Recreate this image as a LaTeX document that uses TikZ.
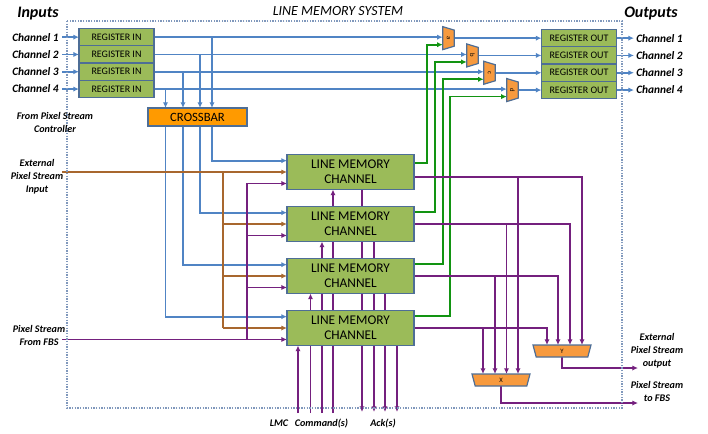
\documentclass[tikz,border=0pt]{standalone}
\usepackage{fontspec}
\setmainfont{Carlito}
\usetikzlibrary{arrows.meta}
\definecolor{boxgreen}{HTML}{9BBB59}
\definecolor{boxedge}{HTML}{4E6E96}
\definecolor{lineblue}{HTML}{5084C4}
\definecolor{xbarorange}{HTML}{FF9A00}
\definecolor{muxorange}{HTML}{F79A3E}
\definecolor{brownline}{HTML}{A8672E}
\definecolor{purpleline}{HTML}{74207E}
\definecolor{greenline}{HTML}{129412}
\definecolor{dotline}{HTML}{8098BC}
\pgfdeclarelayer{bg}
\pgfsetlayers{bg,main}
\begin{document}
\begin{tikzpicture}[x=0.75pt,y=-0.75pt,
  tip/.style={-{Latex[length=4.3pt,width=4pt]}},
  bl/.style={draw=lineblue,line width=1.35pt},
  br/.style={draw=brownline,line width=1.35pt},
  pu/.style={draw=purpleline,line width=1.35pt},
  gr/.style={draw=greenline,line width=1.35pt},
  reg/.style={draw=boxedge,fill=boxgreen,line width=1pt,inner sep=0pt,outer sep=0pt,
    minimum width=56.25pt,minimum height=12.975pt,font=\fontsize{7.5}{9}\selectfont},
  lmcbox/.style={draw=boxedge,fill=boxgreen,line width=1pt,inner sep=0pt,outer sep=0pt,
    minimum width=95.25pt,minimum height=26.25pt,align=center,font=\fontsize{10}{11.5}\selectfont},
  xbar/.style={draw=boxedge,fill=xbarorange,line width=1pt,inner sep=0pt,outer sep=0pt,
    minimum width=74.25pt,minimum height=13.5pt,font=\fontsize{9.5}{11}\selectfont},
  muxn/.style={inner sep=0pt,outer sep=0pt},
  muxshape/.style={draw=boxedge,fill=muxorange,line width=0.9pt},
  muxlab/.style={inner sep=0pt,font=\fontsize{5}{5}\selectfont},
  chlab/.style={inner sep=0pt,font=\fontsize{8.5}{10}\selectfont\bfseries\itshape},
  sl/.style={inner sep=0pt,align=center,font=\fontsize{7.6}{9.75}\selectfont\bfseries\itshape},
  title/.style={inner sep=0pt,font=\fontsize{12}{14}\selectfont\bfseries\itshape}]
\useasboundingbox (0,0) rectangle (708,433);

% border and titles
\draw[dotline,densely dotted,line width=1pt] (67,21) rectangle (622,408);
\node[title] (tin) at (38,14) {Inputs};
\node[title] (tout) at (651,14) {Outputs};
\node[inner sep=0pt,font=\fontsize{10.5}{12}\selectfont\itshape] (tsys) at (338,11) {LINE MEMORY SYSTEM};

% register in
\node[reg] (rin1) at (116.5,37.15) {REGISTER IN};
\node[reg] (rin2) at (116.5,54.45) {REGISTER IN};
\node[reg] (rin3) at (116.5,71.75) {REGISTER IN};
\node[reg] (rin4) at (116.5,89.05) {REGISTER IN};
% register out
\node[reg] (rout1) at (579,38.15) {REGISTER OUT};
\node[reg] (rout2) at (579,55.45) {REGISTER OUT};
\node[reg] (rout3) at (579,72.75) {REGISTER OUT};
\node[reg] (rout4) at (579,90.05) {REGISTER OUT};
% crossbar
\node[xbar] (xb) at (197.5,117) {CROSSBAR};
% line memory channels
\node[lmcbox] (lmc1) at (350.5,172) {LINE MEMORY\\CHANNEL};
\node[lmcbox] (lmc2) at (350.5,224) {LINE MEMORY\\CHANNEL};
\node[lmcbox] (lmc3) at (350.5,276) {LINE MEMORY\\CHANNEL};
\node[lmcbox] (lmc4) at (350.5,328) {LINE MEMORY\\CHANNEL};

% small muxes a-d
\node[muxn,minimum width=8.6pt,minimum height=17.25pt] (ma) at (448.5,38.15) {};
\node[muxn,minimum width=8.6pt,minimum height=17.25pt] (mb) at (472.5,55.45) {};
\node[muxn,minimum width=8.6pt,minimum height=17.25pt] (mc) at (489.5,72.75) {};
\node[muxn,minimum width=8.6pt,minimum height=17.25pt] (md) at (512.5,90.05) {};
\foreach \m/\t in {ma/a,mb/b,mc/c,md/d}{
  \draw[muxshape] (\m.north west) -- ([yshift=-2.6pt]\m.north east) -- ([yshift=2.6pt]\m.south east) -- (\m.south west) -- cycle;
  \node[muxlab,rotate=-90] (l\m) at (\m.center) {\t};
}
% X and Y muxes
\node[muxn,minimum width=43.5pt,minimum height=9pt] (xm) at (501,380) {};
\node[muxn,minimum width=43.5pt,minimum height=9pt] (ym) at (562,351) {};
\foreach \m/\t in {xm/X,ym/Y}{
  \draw[muxshape] (\m.north west) -- (\m.north east) -- ([xshift=-2.4pt]\m.south east) -- ([xshift=2.4pt]\m.south west) -- cycle;
  \node[muxlab] (l\m) at (\m.center) {\t};
}

% labels
\node[chlab,anchor=east] (lin1) at (59,37.15) {Channel 1};
\node[chlab,anchor=east] (lin2) at (59,54.45) {Channel 2};
\node[chlab,anchor=east] (lin3) at (59,71.75) {Channel 3};
\node[chlab,anchor=east] (lin4) at (59,89.05) {Channel 4};
\node[chlab,anchor=west] (lout1) at (636,38.15) {Channel 1};
\node[chlab,anchor=west] (lout2) at (636,55.45) {Channel 2};
\node[chlab,anchor=west] (lout3) at (636,72.75) {Channel 3};
\node[chlab,anchor=west] (lout4) at (636,90.05) {Channel 4};
\node[sl] (lpsc) at (55,122) {From Pixel Stream\\Controller};
\node[sl] (lext) at (37,177) {External\\Pixel Stream\\Input};
\node[sl] (lfbs) at (39,335.5) {Pixel Stream\\From FBS};
\node[sl] (lexo) at (657,351) {External\\Pixel Stream\\output};
\node[sl] (lto) at (657,391) {Pixel Stream\\to FBS};
\node[sl] (llmc) at (279,423) {LMC};
\node[sl] (lcmd) at (321.5,423) {Command(s)};
\node[sl] (lack) at (383,423) {Ack(s)};

% coordinates
\coordinate (c1) at (212,0);
\coordinate (c2) at (200,0);
\coordinate (c3) at (183,0);
\coordinate (c4) at (165.5,0);
\coordinate (bs) at (62,172);
\coordinate (bj) at (223,0);
\coordinate (ps) at (62,0);
\coordinate (pj) at (247,0);
\coordinate (g1) at (427,0);
\coordinate (g2) at (435,0);
\coordinate (g3) at (443,0);
\coordinate (g4) at (450,0);
\coordinate (xo) at (638,403);
\coordinate (yo) at (638,368);
\foreach \i in {1,2,3,4}{
  \coordinate (pin\i) at ([yshift=-8.6pt]lmc\i.west);
  \coordinate (bin\i) at ([yshift=8.5pt]lmc\i.west);
}
\coordinate (gout1) at ([yshift=6.75pt]lmc1.east);
\coordinate (gout2) at ([yshift=8.8pt]lmc2.east);
\coordinate (gout3) at ([yshift=8.8pt]lmc3.east);
\coordinate (gout4) at ([yshift=8.8pt]lmc4.east);
\coordinate (gin1) at ([yshift=-4.9pt]ma.west);
\coordinate (gin2) at ([yshift=-4.9pt]mb.west);
\coordinate (gin3) at ([yshift=-4.9pt]mc.west);
\coordinate (gin4) at ([yshift=-4.9pt]md.west);

\begin{pgfonlayer}{bg}
% channel inputs / outputs
\foreach \i in {1,2,3,4}{
  \draw[bl,tip] ([xshift=2.5pt]lin\i.east) -- (rin\i.west);
  \draw[bl,tip] (rout\i.east) -- ([xshift=-1.5pt]lout\i.west);
}
% register in to muxes
\draw[bl,tip] (rin1.east) -- (rin1.east -| ma.west);
\draw[bl,tip] (rin2.east) -- (rin2.east -| mb.west);
\draw[bl,tip] (rin3.east) -- (rin3.east -| mc.west);
\draw[bl,tip] (rin4.east) -- (rin4.east -| md.west);
% muxes to register out
\draw[bl,tip] (ma.east) -- (ma.east -| rout1.west);
\draw[bl,tip] (mb.east) -- (mb.east -| rout2.west);
\draw[bl,tip] (mc.east) -- (mc.east -| rout3.west);
\draw[bl,tip] (md.east) -- (md.east -| rout4.west);
% drops into crossbar
\draw[bl,tip] (c1 |- rin1.east) -- (c1 |- xb.north);
\draw[bl,tip] (c2 |- rin2.east) -- (c2 |- xb.north);
\draw[bl,tip] (c3 |- rin3.east) -- (c3 |- xb.north);
\draw[bl,tip] (c4 |- rin4.east) -- (c4 |- xb.north);
% crossbar to LMCs
\foreach \i in {1,2,3,4}{\draw[bl,tip] (c\i |- xb.south) |- (bin\i);}
% brown external input
\draw[br,tip] (bs) -- (lmc1.west);
\draw[br] (bj |- lmc1.west) -- (bj |- lmc4.west);
\draw[br,tip] (bj |- lmc2.west) -- (lmc2.west);
\draw[br,tip] (bj |- lmc3.west) -- (lmc3.west);
\draw[br,tip] (bj |- lmc4.west) -- (lmc4.west);
% purple from FBS
\draw[pu,tip] (ps |- pin4) -- (pin4);
\draw[pu] (pj |- pin4) -- (pj |- pin1);
\draw[pu,tip] (pj |- pin1) -- (pin1);
\draw[pu,tip] (pj |- pin2) -- (pin2);
\draw[pu,tip] (pj |- pin3) -- (pin3);
% green to muxes
\foreach \i in {1,2,3,4}{\draw[gr,tip] (gout\i) -| (g\i |- gin\i) -- (gin\i);}
% commands
\coordinate (cm4) at (298,413);
\coordinate (cm3) at (310.5,413);
\coordinate (cm2) at (322,413);
\coordinate (cm1) at (333,413);
\foreach \i in {1,2,3,4}{\draw[pu,tip] (cm\i) -- (cm\i |- lmc\i.south);}
% acks
\coordinate (ak1) at (362,412);
\coordinate (ak2) at (374,412);
\coordinate (ak3) at (385,412);
\coordinate (ak4) at (397,412);
\foreach \i in {1,2,3,4}{\draw[pu,tip] (ak\i |- lmc\i.south) -- (ak\i);}
% outputs to X / Y
\coordinate (o1) at ([yshift=-3.75pt]lmc1.east);
\coordinate (o2) at (lmc2.east);
\coordinate (o3) at (lmc3.east);
\coordinate (o4) at (lmc4.east);
\coordinate (y1) at (582,0); \coordinate (x1) at (518,0);
\coordinate (y2) at (570,0); \coordinate (x2) at (506.5,0);
\coordinate (y3) at (558,0); \coordinate (x3) at (495,0);
\coordinate (y4) at (547,0); \coordinate (x4) at (483,0);
\foreach \i in {1,2,3,4}{
  \draw[pu,tip] (o\i) -| (y\i |- ym.north);
  \draw[pu,tip] (x\i |- o\i) -- (x\i |- xm.north);
}
\draw[pu,tip] (ym.south) |- (yo);
\draw[pu,tip] (xm.south) |- (xo);
\end{pgfonlayer}
\end{tikzpicture}
\end{document}
